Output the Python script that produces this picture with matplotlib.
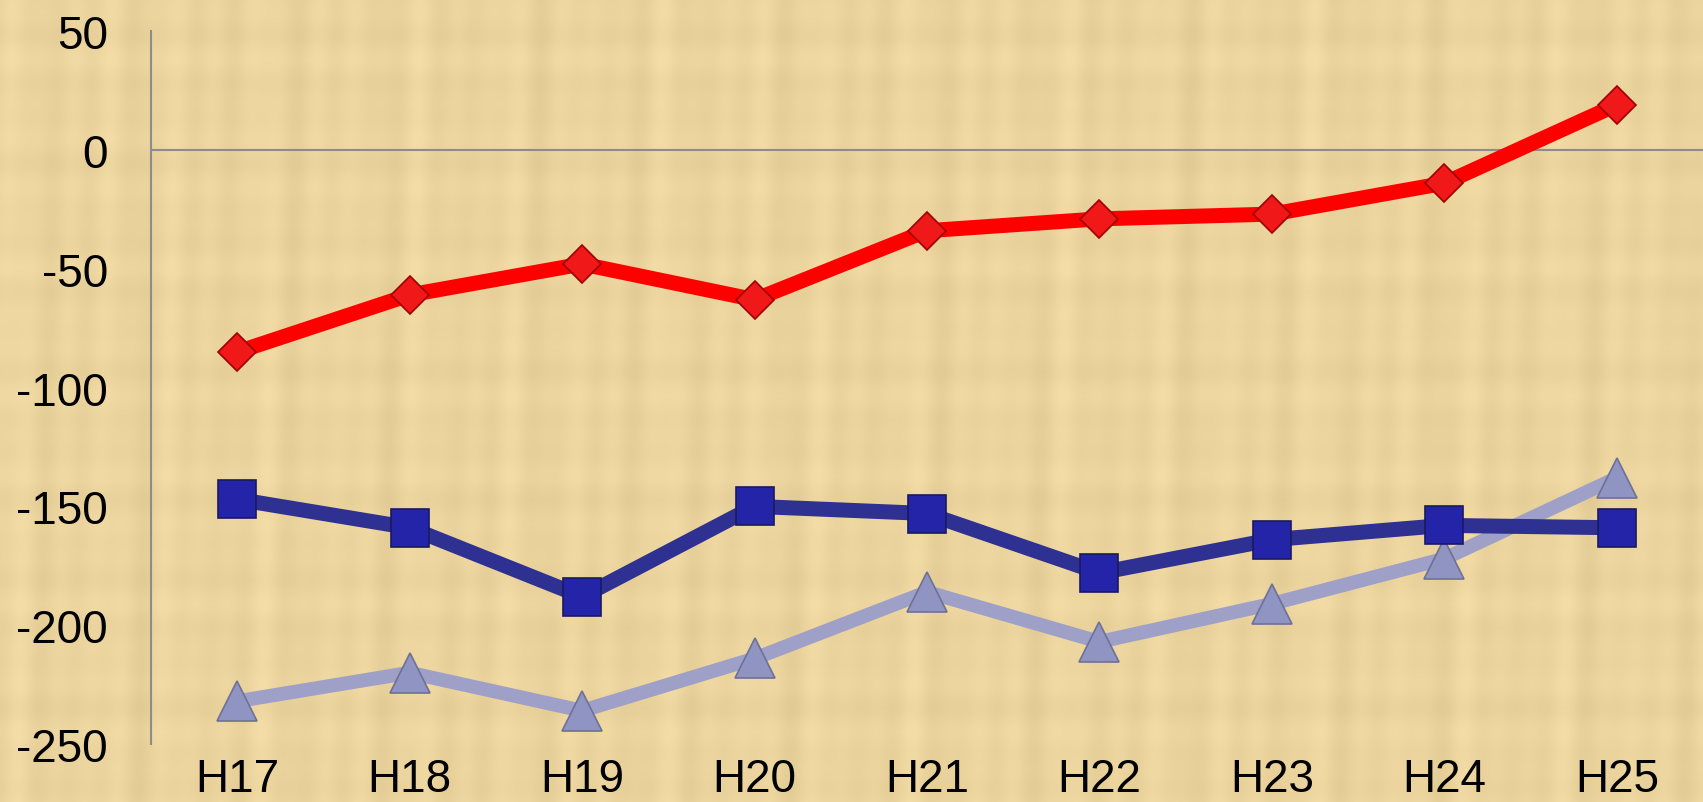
import numpy as np
import matplotlib
matplotlib.use("Agg")
import matplotlib.pyplot as plt

# === DATA ===
years = ["H17", "H18", "H19", "H20", "H21", "H22", "H23", "H24", "H25"]
red_vals = [-85, -61, -48, -63, -34, -29, -27, -14, 19]
navy_vals = [-147, -159, -188, -150, -153, -178, -164, -158, -159]
lav_vals = [-232, -220, -236, -214, -186, -207, -191, -172, -138]

# === SETTINGS ===
BG_COLOR = "#EBD49D"
AXIS_GRAY = "#8C8C8C"
plt.rcParams["font.family"] = ["Liberation Sans", "DejaVu Sans"]
plt.rcParams["axes.unicode_minus"] = False

fig = plt.figure(figsize=(17.03, 8.03), dpi=100)

# papyrus-like background (deterministic stripe texture)
bg = fig.add_axes([0, 0, 1, 1], zorder=-10)
xx = np.linspace(0, 1, 600)
yy = np.linspace(0, 1, 300)
X, Y = np.meshgrid(xx, yy)
tex = (0.5 * np.sin(X * 173.0) * np.sin(X * 41.0 + 1.3)
       + 0.35 * np.sin(Y * 97.0 + 0.7) * np.sin(Y * 23.0)
       + 0.25 * np.sin(X * 311.0 + Y * 5.0))
base = np.array(matplotlib.colors.to_rgb(BG_COLOR))
img = base[None, None, :] + 0.035 * tex[:, :, None]
bg.imshow(np.clip(img, 0, 1), aspect="auto", extent=[0, 1, 0, 1])
bg.axis("off")

ax = fig.add_axes([0.0887, 0.0722, 0.9113, 0.8878])
ax.patch.set_alpha(0)

x = np.arange(len(years))

ax.plot(x, lav_vals, color="#9FA0C8", lw=10, marker="^", markersize=29,
        markerfacecolor="#9094C2", markeredgecolor="#6E7096", markeredgewidth=1.2,
        solid_capstyle="butt", zorder=3)
ax.plot(x, navy_vals, color="#2E3092", lw=10.8, marker="s", markersize=27,
        markerfacecolor="#2424A8", markeredgecolor="#1A1A60", markeredgewidth=1.2,
        solid_capstyle="butt", zorder=4)
ax.plot(x, red_vals, color="#FF0000", lw=10.8, marker="D", markersize=19,
        markerfacecolor="#F01818", markeredgecolor="#A00000", markeredgewidth=1.2,
        solid_capstyle="butt", zorder=5)

ax.axhline(0, color=AXIS_GRAY, lw=1.5, zorder=2)

ax.set_xlim(-0.5, 8.5)
ax.set_ylim(-250, 50)
ax.set_yticks([50, 0, -50, -100, -150, -200, -250])
ax.set_xticks(x)
ax.set_xticklabels(years)

for side in ["top", "right", "bottom"]:
    ax.spines[side].set_visible(False)
ax.spines["left"].set_color(AXIS_GRAY)
ax.spines["left"].set_linewidth(1.5)

ax.tick_params(axis="y", length=0, labelsize=33, pad=31)
ax.tick_params(axis="x", length=0, labelsize=33, pad=9)

fig.savefig("out.png", dpi=100)
